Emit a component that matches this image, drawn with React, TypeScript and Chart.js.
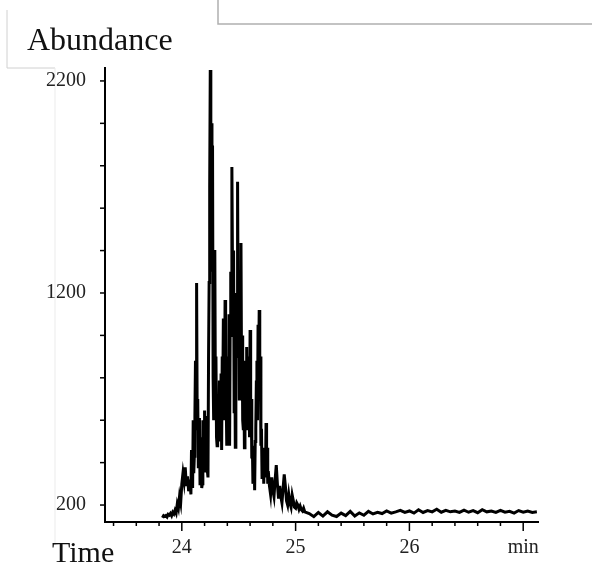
import React, { useEffect, useRef } from 'react';
import { Chart, registerables } from 'chart.js';

Chart.register(...registerables);

// Retention time (min)
const times = [
  23.83, 23.84, 23.85, 23.86, 23.87, 23.88, 23.89, 23.90, 23.91, 23.92,
  23.93, 23.94, 23.95, 23.96, 23.97, 23.98, 23.99, 24.00, 24.01, 24.02,
  24.03, 24.04, 24.05, 24.06, 24.07,
  24.080, 24.085, 24.090, 24.095, 24.100, 24.105, 24.110, 24.115, 24.120, 24.125,
  24.130, 24.135, 24.140, 24.145, 24.150, 24.155, 24.160, 24.165, 24.170, 24.175,
  24.180, 24.185, 24.190, 24.195, 24.200, 24.205, 24.210, 24.215, 24.220, 24.225,
  24.230, 24.235, 24.240, 24.245, 24.250, 24.255, 24.260, 24.265, 24.270, 24.275,
  24.280, 24.285, 24.290, 24.295, 24.300, 24.305, 24.310, 24.315, 24.320, 24.325,
  24.330, 24.335, 24.340, 24.345, 24.350, 24.355, 24.360, 24.365, 24.370, 24.375,
  24.380, 24.385, 24.390, 24.395, 24.400, 24.405, 24.410, 24.415, 24.420, 24.425,
  24.430, 24.435, 24.440, 24.445, 24.450, 24.455, 24.460, 24.465, 24.470, 24.475,
  24.480, 24.485, 24.490, 24.495, 24.500, 24.505, 24.510, 24.515, 24.520, 24.525,
  24.530, 24.535, 24.540, 24.545, 24.550, 24.555, 24.560, 24.565, 24.570, 24.575,
  24.580, 24.585, 24.590, 24.595, 24.600, 24.605, 24.610, 24.615, 24.620, 24.625,
  24.630, 24.635, 24.640, 24.645, 24.650, 24.655, 24.660, 24.665, 24.670, 24.675,
  24.680, 24.685, 24.690, 24.695, 24.700, 24.705, 24.710, 24.715, 24.720, 24.725,
  24.730, 24.735, 24.740, 24.745, 24.750, 24.755, 24.760,
  24.77, 24.78, 24.79, 24.80, 24.81, 24.82, 24.83, 24.84, 24.85, 24.86,
  24.87, 24.88, 24.89, 24.90, 24.91, 24.92, 24.93, 24.94, 24.95, 24.96,
  24.97, 24.98, 24.99, 25.00, 25.01, 25.02, 25.03, 25.04, 25.05, 25.06,
  25.07, 25.08,
  25.12, 25.16, 25.20, 25.24, 25.28, 25.32, 25.36, 25.40, 25.44, 25.48,
  25.52, 25.56, 25.60, 25.64, 25.68, 25.72, 25.76, 25.80, 25.84, 25.88,
  25.92, 25.96, 26.00, 26.04, 26.08, 26.12, 26.16, 26.20, 26.24, 26.28,
  26.32, 26.36, 26.40, 26.44, 26.48, 26.52, 26.56, 26.60, 26.64, 26.68,
  26.72, 26.76, 26.80, 26.84, 26.88, 26.92, 26.96, 27.00, 27.04, 27.08,
  27.12,
];

// Abundance
const abundance = [
  140, 150, 146, 150, 144, 156, 152, 160, 150, 166,
  158, 175, 162, 205, 185, 240, 210, 300, 350, 310,
  378, 290, 335, 265, 320,
  250, 460, 420, 280, 600, 350, 430, 620, 880, 560,
  1247, 620, 700, 380, 420, 610, 300, 520, 450, 280,
  300, 600, 560, 380, 646, 360, 420, 620, 540, 360,
  330, 900, 1250, 1700, 2252, 1500, 2000, 1300, 1895, 800,
  600, 1250, 1403, 700, 900, 520, 480, 720, 640, 500,
  787, 560, 520, 820, 460, 900, 720, 1080, 1000, 600,
  1167, 820, 700, 480, 520, 900, 600, 1100, 480, 1050,
  1300, 1000, 1794, 1350, 1200, 1400, 640, 1000, 472, 1100,
  1200, 900, 1724, 1100, 1200, 700, 900, 1300, 1436, 800,
  1000, 600, 560, 820, 470, 880, 780, 560, 945, 620,
  560, 900, 760, 520, 1025, 600, 700, 420, 480, 300,
  330, 430, 270, 500, 560, 780, 880, 600, 1050, 800,
  1120, 700, 900, 480, 560, 330, 380, 470, 300, 420,
  450, 330, 587, 400, 470, 300, 360,
  290, 250, 330, 270, 240, 320, 388, 300, 230, 290,
  240, 210, 280, 345, 290, 220, 200, 250, 210, 190,
  247, 220, 190, 185, 210, 200, 180, 195, 178, 172,
  185, 168,
  160, 145, 165, 148, 168, 152, 146, 162, 150, 170,
  148, 163, 152, 170, 158, 166, 160, 172, 162, 168,
  175, 165, 172, 162, 178, 165, 174, 168, 180, 166,
  175, 168, 172, 165, 176, 166, 174, 164, 178, 168,
  172, 165, 175, 166, 170, 162, 174, 166, 172, 165,
  168,
];

const yLabelValues = [200, 1200, 2200];
const xLabelValues = [24, 25, 26, 27];
const xLabelTexts = ['24', '25', '26', 'min'];
const yAxisTitle = 'Abundance';
const xAxisTitle = 'Time';

const SERIF = '"Liberation Serif", "Times New Roman", Times, serif';

export default function App() {
  const ref = useRef<HTMLCanvasElement>(null);

  useEffect(() => {
    if (!ref.current) return;

    const decor = {
      id: 'decor',
      beforeDraw(chart: any) {
        const ctx = chart.ctx;
        ctx.save();
        ctx.fillStyle = '#ffffff';
        ctx.fillRect(0, 0, chart.width, chart.height);
        ctx.strokeStyle = '#b0b0b0';
        ctx.lineWidth = 1.5;
        ctx.beginPath();
        ctx.moveTo(218, 0);
        ctx.lineTo(218, 24);
        ctx.lineTo(592, 24);
        ctx.stroke();
        ctx.strokeStyle = '#d0d0d0';
        ctx.lineWidth = 1;
        ctx.beginPath();
        ctx.moveTo(7, 10);
        ctx.lineTo(7, 68);
        ctx.lineTo(55, 68);
        ctx.stroke();
        ctx.strokeStyle = '#ebebeb';
        ctx.beginPath();
        ctx.moveTo(55, 68);
        ctx.lineTo(55, 545);
        ctx.stroke();
        ctx.restore();
      },
      afterDraw(chart: any) {
        const ctx = chart.ctx;
        const xs = chart.scales.x;
        const ys = chart.scales.y;
        const area = chart.chartArea;
        ctx.save();
        ctx.strokeStyle = '#000';
        ctx.lineWidth = 1.5;
        xs.ticks.forEach((t: any) => {
          const px = xs.getPixelForValue(t.value);
          const major = Math.abs(t.value - Math.round(t.value)) < 1e-6;
          ctx.beginPath();
          ctx.moveTo(px, area.bottom);
          ctx.lineTo(px, area.bottom + (major ? 9 : 4));
          ctx.stroke();
        });
        ys.ticks.forEach((t: any) => {
          const py = ys.getPixelForValue(t.value);
          ctx.beginPath();
          ctx.moveTo(area.left, py);
          ctx.lineTo(area.left - 5, py);
          ctx.stroke();
        });
        ctx.fillStyle = '#111';
        ctx.textAlign = 'left';
        ctx.textBaseline = 'alphabetic';
        ctx.font = `32px ${SERIF}`;
        ctx.fillText(yAxisTitle, 27, 50);
        ctx.font = `30px ${SERIF}`;
        ctx.fillText(xAxisTitle, 52, 562);
        ctx.restore();
      },
    };

    const chart = new Chart(ref.current, {
      type: 'line',
      data: {
        datasets: [
          {
            data: times.map((t, i) => ({ x: t, y: abundance[i] })),
            borderColor: '#000',
            borderWidth: 3,
            pointRadius: 0,
            tension: 0,
            fill: false,
          },
        ],
      },
      options: {
        responsive: false,
        animation: false,
        events: [],
        layout: { padding: { left: 0, right: 54, top: 68, bottom: 0 } },
        plugins: {
          legend: { display: false },
          tooltip: { enabled: false },
          title: { display: false },
        },
        scales: {
          x: {
            type: 'linear',
            min: 23.325,
            max: 27.13,
            afterFit: (s: any) => {
              s.height = 42;
            },
            grid: { display: false, drawTicks: false },
            border: { display: true, color: '#000', width: 2 },
            ticks: {
              stepSize: 0.2,
              includeBounds: false,
              autoSkip: false,
              maxRotation: 0,
              padding: 14,
              color: '#222',
              font: { family: SERIF, size: 20 },
              callback: (v: any) => {
                const idx = xLabelValues.findIndex((x) => Math.abs(x - Number(v)) < 1e-6);
                return idx >= 0 ? xLabelTexts[idx] : '';
              },
            },
          },
          y: {
            type: 'linear',
            min: 120,
            max: 2261,
            afterFit: (s: any) => {
              s.width = 105;
            },
            grid: { display: false, drawTicks: false },
            border: { display: true, color: '#000', width: 2 },
            ticks: {
              stepSize: 200,
              includeBounds: false,
              autoSkip: false,
              padding: 19,
              color: '#222',
              font: { family: SERIF, size: 20 },
              callback: (v: any) => (yLabelValues.includes(Number(v)) ? String(v) : ''),
            },
          },
        },
      },
      plugins: [decor],
    });

    return () => chart.destroy();
  }, []);

  return (
    <div style={{ position: 'absolute', left: 0, top: 0, width: 592, height: 564 }}>
      <canvas ref={ref} width={592} height={564} />
    </div>
  );
}
